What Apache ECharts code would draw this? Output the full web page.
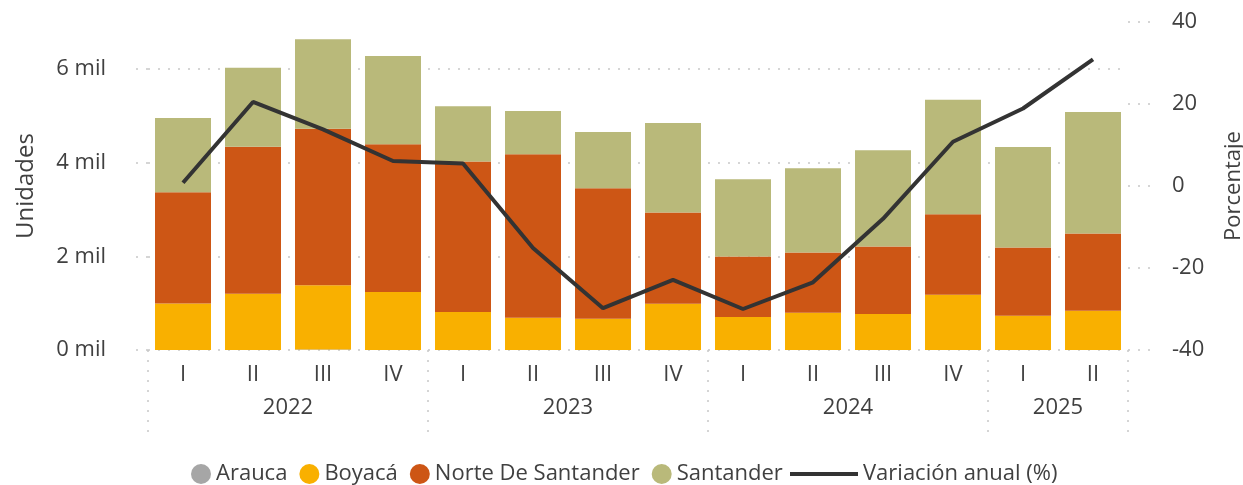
<!DOCTYPE html>
<html>
<head>
<meta charset="utf-8">
<script src="https://cdn.jsdelivr.net/npm/echarts@6/dist/echarts.min.js"></script>
<style>
  html, body { margin: 0; padding: 0; background: #fff; }
  #chart { width: 1243px; height: 485px; }
</style>
</head>
<body>
<div id="chart"></div>
<script>
// quarters per year, x axis
const quarters = ['I', 'II', 'III', 'IV', 'I', 'II', 'III', 'IV', 'I', 'II', 'III', 'IV', 'I', 'II'];
const years = ['2022', '2023', '2024', '2025'];
const quartersPerYear = [4, 4, 4, 2];

// units per department (stacked bars)
const arauca = [0, 0, 10, 0, 0, 0, 0, 0, 0, 0, 0, 0, 0, 0];
const boyaca = [990, 1200, 1370, 1240, 810, 690, 665, 985, 705, 795, 770, 1180, 730, 835];
const norteDeSantander = [2375, 3136, 3343, 3150, 3215, 3490, 2785, 1950, 1290, 1285, 1440, 1715, 1455, 1650];
const santander = [1585, 1685, 1907, 1886, 1178, 920, 1200, 1907, 1650, 1800, 2055, 2445, 2145, 2595];

// annual change (%), right axis
const variacion = [0.8, 20.5, 13.8, 6.1, 5.5, -15.1, -29.8, -22.9, -30.0, -23.5, -8.0, 10.8, 18.9, 30.9];

const textColor = '#404040';
const gridDots = { color: '#c8c8c8', width: 1.5, type: [2, 8] };
const font = '"Open Sans", "Noto Sans", sans-serif';

// second level of the x axis: half-quarter slots, year label in the middle of its quarters
const slotCount = quarters.length * 2 + 1;
const yearAt = {};
const boundaries = [];
let start = 0;
years.forEach((y, i) => {
    boundaries.push(start * 2);
    yearAt[start * 2 + quartersPerYear[i]] = y;
    start += quartersPerYear[i];
});
boundaries.push(start * 2);
const slots = [];
for (let i = 0; i < slotCount; i++) slots.push(String(i));

const chart = echarts.init(document.getElementById('chart'));

const barSeries = (name, data, color) => ({
    name: name,
    type: 'bar',
    stack: 'total',
    data: data,
    barCategoryGap: '20%',
    itemStyle: { color: color },
    emphasis: { disabled: true }
});

const option = {
    animation: false,
    textStyle: { fontFamily: font },
    grid: [
        { left: 148, right: 115, top: 22, bottom: 135, outerBoundsMode: 'none', containLabel: false },
        // strip under the plot that carries the year separators
        { left: 148, right: 115, top: 350, height: 82, outerBoundsMode: 'none', containLabel: false }
    ],
    legend: [
        {
            data: ['Arauca', 'Boyacá', 'Norte De Santander', 'Santander'],
            icon: 'circle',
            itemWidth: 20,
            itemHeight: 20,
            itemGap: 12,
            padding: 0,
            left: 191,
            top: 463,
            textStyle: { fontSize: 22, color: textColor, fontFamily: font }
        },
        {
            data: ['Variación anual (%)'],
            icon: 'rect',
            itemWidth: 68,
            itemHeight: 4,
            itemStyle: { color: '#333333' },
            padding: 0,
            left: 790,
            top: 463,
            textStyle: { fontSize: 22, color: textColor, fontFamily: font }
        }
    ],
    xAxis: [
        {
            type: 'category',
            data: quarters,
            position: 'bottom',
            axisLine: { show: false },
            axisTick: { show: false },
            axisLabel: { color: textColor, fontSize: 22, margin: 14, interval: 0 }
        },
        {
            type: 'category',
            data: slots,
            position: 'bottom',
            boundaryGap: false,
            axisLine: { show: false },
            axisTick: { show: false },
            axisLabel: {
                color: textColor,
                fontSize: 22,
                margin: 47,
                interval: (idx) => yearAt[idx] !== undefined,
                formatter: (val, idx) => yearAt[idx] || ''
            }
        },
        {
            type: 'category',
            gridIndex: 1,
            data: slots,
            boundaryGap: false,
            axisLine: { show: false },
            axisTick: { show: false },
            axisLabel: { show: false },
            splitLine: {
                show: true,
                interval: (idx) => boundaries.includes(idx),
                lineStyle: gridDots
            }
        }
    ],
    yAxis: [
        {
            type: 'value',
            name: 'Unidades',
            nameLocation: 'middle',
            nameGap: 110,
            nameTextStyle: { fontSize: 24, color: textColor },
            min: 0,
            max: 7000,
            interval: 2000,
            axisLine: { show: false },
            axisTick: { show: true, length: 20, lineStyle: gridDots },
            axisLabel: {
                color: textColor,
                fontSize: 22,
                margin: 42,
                showMaxLabel: false,
                formatter: (v) => (v / 1000) + ' mil'
            },
            splitLine: { show: true, showMaxLine: false, lineStyle: gridDots }
        },
        {
            type: 'value',
            name: 'Porcentaje',
            nameLocation: 'middle',
            nameGap: 95,
            nameTextStyle: { fontSize: 22, color: textColor },
            min: -40,
            max: 40,
            interval: 20,
            position: 'right',
            axisLine: { show: false },
            axisTick: { show: true, length: 22, lineStyle: gridDots },
            axisLabel: { color: textColor, fontSize: 22, margin: 44 },
            splitLine: { show: false }
        },
        {
            type: 'value',
            gridIndex: 1,
            show: false
        }
    ],
    series: [
        barSeries('Arauca', arauca, '#a6a6a6'),
        barSeries('Boyacá', boyaca, '#f9b000'),
        barSeries('Norte De Santander', norteDeSantander, '#cd5615'),
        barSeries('Santander', santander, '#b9b97a'),
        {
            name: 'Variación anual (%)',
            type: 'line',
            yAxisIndex: 1,
            data: variacion,
            symbol: 'none',
            color: '#333333',
            lineStyle: { width: 4, color: '#333333' },
            z: 5
        }
    ]
};

chart.setOption(option);
</script>
</body>
</html>
